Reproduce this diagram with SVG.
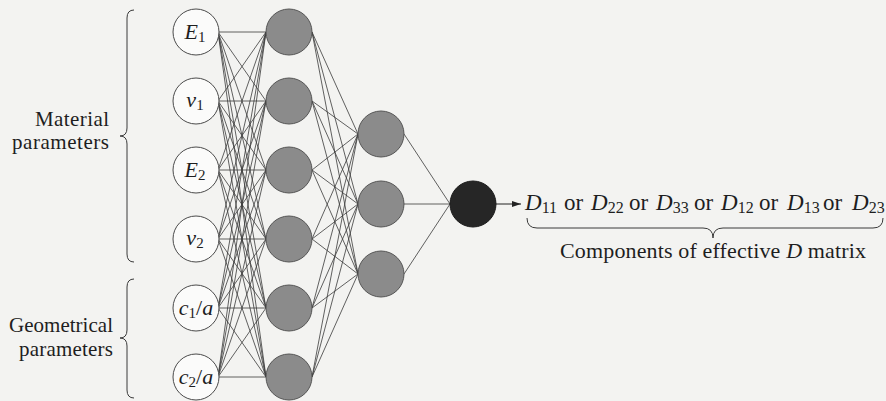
<svg xmlns="http://www.w3.org/2000/svg" width="886" height="401" viewBox="0 0 886 401">
<defs>
<style>
.t{fill:#1e1e1e;}
.i{font-style:italic;}
.in{fill:#fbfbfa;stroke:#4a4a4a;stroke-width:1;}
.hid{fill:#8b8b8b;stroke:#555;stroke-width:1;}
.out{fill:#262626;stroke:#1a1a1a;stroke-width:1;}
.conn{fill:none;stroke:#3a3a3a;stroke-width:0.8;}
.brace{fill:none;stroke:#3a3a3a;stroke-width:1;}
</style>
<marker id="ah" markerWidth="10" markerHeight="8" refX="9" refY="4" orient="auto" markerUnits="userSpaceOnUse">
<path d="M0,1 L9,4 L0,7 Z" fill="#222"/>
</marker>
</defs>
<rect width="886" height="401" fill="#f3f3f1"/>

<g id="connectors" class="conn">
<path d="M218 32L266 32M218 32L266 101M218 32L266 170M218 32L266 239M218 32L266 308M218 32L266 377"/>
<path d="M218 101L266 32M218 101L266 101M218 101L266 170M218 101L266 239M218 101L266 308M218 101L266 377"/>
<path d="M218 170L266 32M218 170L266 101M218 170L266 170M218 170L266 239M218 170L266 308M218 170L266 377"/>
<path d="M218 239L266 32M218 239L266 101M218 239L266 170M218 239L266 239M218 239L266 308M218 239L266 377"/>
<path d="M218 308L266 32M218 308L266 101M218 308L266 170M218 308L266 239M218 308L266 308M218 308L266 377"/>
<path d="M218 377L266 32M218 377L266 101M218 377L266 170M218 377L266 239M218 377L266 308M218 377L266 377"/>
<path d="M312 32L358 134M312 32L358 204M312 32L358 274"/>
<path d="M312 101L358 134M312 101L358 204M312 101L358 274"/>
<path d="M312 170L358 134M312 170L358 204M312 170L358 274"/>
<path d="M312 239L358 134M312 239L358 204M312 239L358 274"/>
<path d="M312 308L358 134M312 308L358 204M312 308L358 274"/>
<path d="M312 377L358 134M312 377L358 204M312 377L358 274"/>
<path d="M404 134L450 204M404 204L450 204M404 274L450 204"/>
<line x1="496" y1="204" x2="521" y2="204" stroke="#222" stroke-width="1" marker-end="url(#ah)"/>
</g>

<g font-family="'Liberation Serif', 'DejaVu Serif', serif">
<g id="in-E1"><circle class="in" cx="196" cy="32" r="23"/><text class="t" x="195" y="39" font-size="22" text-anchor="middle"><tspan class="i">E</tspan><tspan font-size="15" dy="3">1</tspan></text></g>
<g id="in-nu1"><circle class="in" cx="196" cy="101" r="23"/><text class="t" x="195" y="107" font-size="22" text-anchor="middle"><tspan class="i">ν</tspan><tspan font-size="15" dy="3">1</tspan></text></g>
<g id="in-E2"><circle class="in" cx="196" cy="170" r="23"/><text class="t" x="195" y="177" font-size="22" text-anchor="middle"><tspan class="i">E</tspan><tspan font-size="15" dy="3">2</tspan></text></g>
<g id="in-nu2"><circle class="in" cx="196" cy="239" r="23"/><text class="t" x="195" y="245" font-size="22" text-anchor="middle"><tspan class="i">ν</tspan><tspan font-size="15" dy="3">2</tspan></text></g>
<g id="in-c1a"><circle class="in" cx="196" cy="308" r="23"/><text class="t" x="196" y="315" font-size="22" text-anchor="middle"><tspan class="i">c</tspan><tspan font-size="15" dy="3">1</tspan><tspan dy="-3">/</tspan><tspan class="i">a</tspan></text></g>
<g id="in-c2a"><circle class="in" cx="196" cy="377" r="23"/><text class="t" x="196" y="384" font-size="22" text-anchor="middle"><tspan class="i">c</tspan><tspan font-size="15" dy="3">2</tspan><tspan dy="-3">/</tspan><tspan class="i">a</tspan></text></g>

<g id="h1-1"><circle class="hid" cx="289" cy="32" r="23"/></g>
<g id="h1-2"><circle class="hid" cx="289" cy="101" r="23"/></g>
<g id="h1-3"><circle class="hid" cx="289" cy="170" r="23"/></g>
<g id="h1-4"><circle class="hid" cx="289" cy="239" r="23"/></g>
<g id="h1-5"><circle class="hid" cx="289" cy="308" r="23"/></g>
<g id="h1-6"><circle class="hid" cx="289" cy="377" r="23"/></g>

<g id="h2-1"><circle class="hid" cx="381" cy="134" r="23"/></g>
<g id="h2-2"><circle class="hid" cx="381" cy="204" r="23"/></g>
<g id="h2-3"><circle class="hid" cx="381" cy="274" r="23"/></g>

<g id="output"><circle class="out" cx="473" cy="204" r="23"/></g>

<g id="material-label">
<path class="brace" d="M134 10 Q127 10 127 18 L127 128 Q127 136 120 136 Q127 136 127 144 L127 254 Q127 262 134 262"/>
<text class="t" x="109" y="126" font-size="21" text-anchor="end" textLength="74">Material</text>
<text class="t" x="109" y="149" font-size="21" text-anchor="end" textLength="97">parameters</text>
</g>
<g id="geometrical-label">
<path class="brace" d="M134 279 Q127 279 127 287 L127 330 Q127 338 120 338 Q127 338 127 346 L127 390 Q127 398 134 398"/>
<text class="t" x="113" y="332" font-size="21" text-anchor="end" textLength="104">Geometrical</text>
<text class="t" x="113" y="356" font-size="21" text-anchor="end" textLength="94">parameters</text>
</g>

<g id="output-label">
<text class="t" y="210" font-size="23"><tspan x="525" class="i">D</tspan><tspan font-size="16" dy="3">11</tspan><tspan x="564" dy="-3">or</tspan><tspan x="591" class="i">D</tspan><tspan font-size="16" dy="3">22</tspan><tspan x="629" dy="-3">or</tspan><tspan x="656" class="i">D</tspan><tspan font-size="16" dy="3">33</tspan><tspan x="694" dy="-3">or</tspan><tspan x="721" class="i">D</tspan><tspan font-size="16" dy="3">12</tspan><tspan x="759" dy="-3">or</tspan><tspan x="787" class="i">D</tspan><tspan font-size="16" dy="3">13</tspan><tspan x="823" dy="-3">or</tspan><tspan x="852" class="i">D</tspan><tspan font-size="16" dy="3">23</tspan></text>
<path class="brace" d="M527 218 Q527 228 537 228 L703 228 Q713 228 713 238 Q713 228 723 228 L873 228 Q883 228 883 218"/>
<text class="t" x="713" y="258" font-size="22" text-anchor="middle" textLength="306">Components of effective <tspan class="i">D</tspan> matrix</text>
</g>
</g>
</svg>
